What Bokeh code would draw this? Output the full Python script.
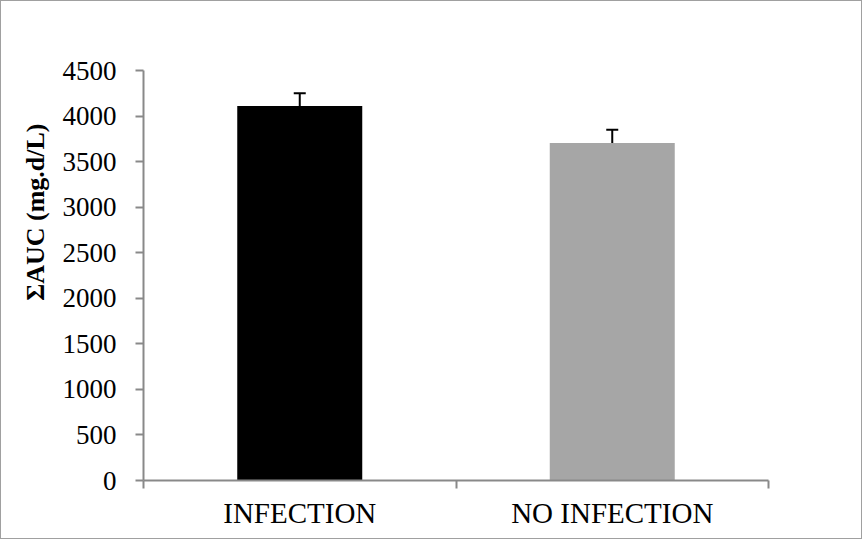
from bokeh.plotting import figure
from bokeh.models import Range1d, FixedTicker, ColumnDataSource, Whisker, TeeHead, Title
from bokeh.embed import file_html
from bokeh.resources import INLINE

categories = ["INFECTION", "NO INFECTION"]
values = [4110, 3705]
errors = [140, 145]
colors = ["#000000", "#a6a6a6"]
y_ticks = [0, 500, 1000, 1500, 2000, 2500, 3000, 3500, 4000, 4500]
y_label = "ΣAUC (mg.d/L)"

xs = [i + 0.5 for i in range(len(categories))]
src = ColumnDataSource(dict(
    x=xs, top=values, upper=[v + e for v, e in zip(values, errors)],
    color=colors))

p = figure(width=862, height=539, output_backend="svg", toolbar_location=None,
           x_range=Range1d(0, len(categories)), y_range=Range1d(0, 4500),
           min_border_left=142, min_border_right=95, min_border_top=69,
           min_border_bottom=60)
p.styles = {"border": "1px solid #a0a0a0"}
p.outline_line_color = None
p.xgrid.visible = False
p.ygrid.visible = False

p.vbar(x="x", top="top", width=0.4, bottom=0, color="color", line_color=None, source=src)
p.add_layout(Whisker(source=src, base="x", lower="top", upper="upper",
                     line_color="black", line_width=2,
                     upper_head=TeeHead(size=12, line_color="black", line_width=2),
                     lower_head=None))

axis_color = "#898989"
font = "Liberation Serif"

yax = p.yaxis[0]
yax.ticker = FixedTicker(ticks=y_ticks)
yax.axis_line_color = axis_color
yax.axis_line_width = 2
yax.major_tick_line_color = axis_color
yax.major_tick_line_width = 2
yax.major_tick_in = 0
yax.major_tick_out = 8
yax.minor_tick_line_color = None
yax.major_label_text_font = font
yax.major_label_text_font_size = "27px"
yax.major_label_text_color = "black"
yax.major_label_standoff = 19

# y-axis title placed off-centre (towards the top) as in the original
p.add_layout(Title(text=y_label, align="right", offset=53, standoff=20,
                   text_font=font, text_font_size="26px", text_font_style="bold",
                   text_color="black"), "left")

xax = p.xaxis[0]
xax.ticker = FixedTicker(ticks=xs, minor_ticks=list(range(len(categories) + 1)))
xax.major_label_overrides = {x: c for x, c in zip(xs, categories)}
xax.axis_line_color = axis_color
xax.axis_line_width = 2
xax.major_tick_line_color = None
xax.minor_tick_line_color = axis_color
xax.minor_tick_line_width = 2
xax.minor_tick_in = 0
xax.minor_tick_out = 8
xax.major_label_text_font = font
xax.major_label_text_font_size = "29px"
xax.major_label_text_color = "black"
xax.major_label_standoff = 8

open("out.html", "w").write(file_html(p, INLINE))
